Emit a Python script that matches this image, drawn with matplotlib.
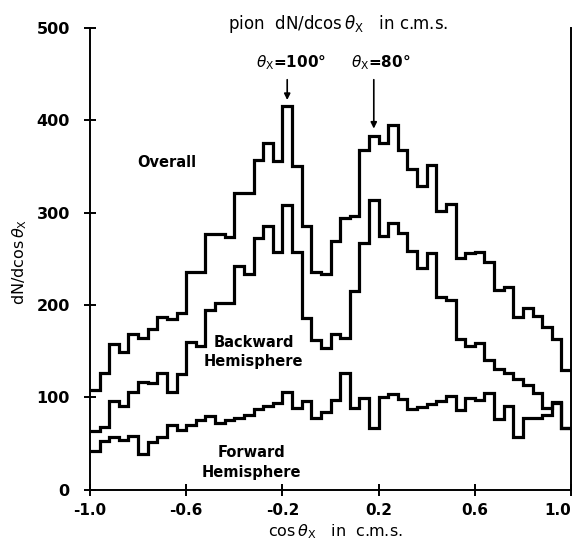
import numpy as np
import matplotlib
matplotlib.use("Agg")
import matplotlib.pyplot as plt

# ---- data (50 bins of width 0.04 in cos(theta_x)) ----
bin_edges = np.linspace(-1.0, 1.0, 51)

overall = [108, 126, 158, 149, 169, 164, 174, 187, 185, 191,
           236, 236, 277, 277, 274, 321, 321, 357, 375, 356,
           415, 351, 285, 236, 234, 269, 294, 296, 368, 383,
           375, 395, 368, 347, 329, 352, 302, 309, 251, 256,
           257, 246, 216, 219, 187, 197, 188, 176, 163, 130]

backward = [63, 68, 96, 91, 106, 117, 115, 126, 106, 125,
            160, 155, 195, 202, 202, 242, 234, 272, 285, 257,
            308, 257, 186, 162, 153, 168, 164, 215, 267, 314,
            275, 289, 278, 258, 240, 256, 209, 205, 163, 155,
            159, 140, 131, 126, 120, 113, 105, 88, 95, 67]

forward = [42, 53, 57, 54, 58, 39, 51, 57, 70, 64,
           70, 75, 80, 72, 75, 78, 81, 87, 90, 94,
           106, 88, 96, 77, 84, 97, 126, 88, 99, 67,
           100, 104, 98, 87, 89, 93, 96, 101, 86, 99,
           97, 105, 76, 90, 57, 78, 78, 81, 94, 67]

x_ticks = [-1.0, -0.6, -0.2, 0.2, 0.6, 1.0]
x_tick_labels = ["-1.0", "-0.6", "-0.2", "0.2", "0.6", "1.0"]
y_ticks = [0, 100, 200, 300, 400, 500]
y_tick_labels = ["0", "100", "200", "300", "400", "500"]

W, H = 576, 547
fig = plt.figure(figsize=(W / 100, H / 100), dpi=100)
ax = fig.add_axes([90 / W, 1 - 489.5 / H, (571 - 90) / W, (489.5 - 28) / H])

lw = 2.3
for series in (overall, backward, forward):
    ax.stairs(series, bin_edges, baseline=None, color="black", lw=lw,
              joinstyle="miter")

ax.set_xlim(-1.0, 1.0)
ax.set_ylim(0, 500)

for s in ("left", "bottom", "right"):
    ax.spines[s].set_linewidth(1.4)
ax.spines["top"].set_visible(False)

ax.set_xticks(x_ticks)
ax.set_xticklabels(x_tick_labels, fontsize=11, fontweight="bold")
ax.set_yticks(y_ticks)
ax.set_yticklabels(y_tick_labels, fontsize=11.5, fontweight="bold")
ax.tick_params(axis="both", direction="inout", length=9, width=1.4)
ax.tick_params(axis="x", pad=5)
ax.tick_params(axis="y", pad=10)

# keep the last x tick label inside the figure
ax.xaxis.get_major_ticks()[-1].label1.set_horizontalalignment("right")

# titles / labels
fig.text(338 / W, 1 - 24 / H, r"pion  dN/dcos$\,\theta_{\mathrm{X}}$   in c.m.s.",
         ha="center", va="center", fontsize=12)
fig.text(335 / W, 1 - 532 / H, r"cos$\,\theta_{\mathrm{X}}$   in  c.m.s.",
         ha="center", va="center", fontsize=11.5)
fig.text(20 / W, 1 - 262 / H, r"dN/dcos$\,\theta_{\mathrm{X}}$",
         ha="center", va="center", rotation=90, fontsize=11.5)

# annotations
ax.text(-0.68, 354, "Overall", ha="center", va="center", fontsize=10.5,
        fontweight="bold")
ax.text(-0.32, 159, "Backward", ha="center", va="center", fontsize=10.5,
        fontweight="bold")
ax.text(-0.32, 139, "Hemisphere", ha="center", va="center", fontsize=10.5,
        fontweight="bold")
ax.text(-0.33, 40, "Forward", ha="center", va="center", fontsize=10.5,
        fontweight="bold")
ax.text(-0.33, 18, "Hemisphere", ha="center", va="center", fontsize=10.5,
        fontweight="bold")

ax.text(-0.165, 462, r"$\theta_{\mathrm{X}}$=100°", ha="center", va="center",
        fontsize=11, fontweight="bold", clip_on=False)
ax.text(0.21, 462, r"$\theta_{\mathrm{X}}$=80°", ha="center", va="center",
        fontsize=11, fontweight="bold", clip_on=False)
ax.annotate("", xy=(-0.18, 419), xytext=(-0.18, 447),
            arrowprops=dict(arrowstyle="-|>", lw=1.2, color="black",
                            mutation_scale=9))
ax.annotate("", xy=(0.18, 388), xytext=(0.18, 447),
            arrowprops=dict(arrowstyle="-|>", lw=1.2, color="black",
                            mutation_scale=9))

fig.savefig("out.png", dpi=100)
